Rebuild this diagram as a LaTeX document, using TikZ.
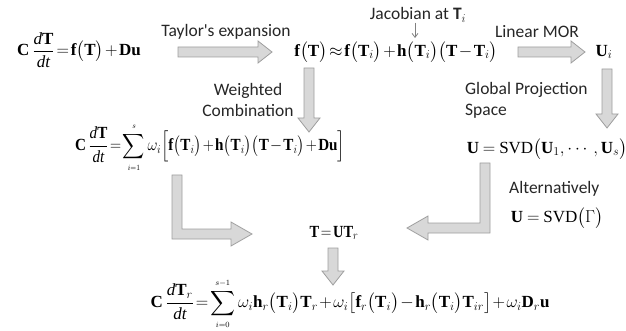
\documentclass[tikz,border=0pt]{standalone}
\usepackage{amsmath}
\usepackage{graphicx}
\usepackage{fontspec}
\setmainfont{Liberation Serif}
\newfontfamily\labfont{Carlito}
\usetikzlibrary{arrows.meta,calc}
\definecolor{arrfill}{RGB}{216,216,216}
\definecolor{arrline}{RGB}{158,158,158}
\thickmuskip=2mu\relax
\medmuskip=1.5mu\relax
\newcommand{\bv}[1]{\textbf{#1}}
\newcommand{\dd}{\textit{d}}
\newcommand{\wsum}[2]{\displaystyle\sum\limits_{\scriptscriptstyle #1}^{\scriptscriptstyle #2}}
% block arrow to the right / down between two named points
\newcommand{\blkR}[2]{\draw[blkarr] ($(#1)+(0,-5)$) -- ($(#2)+(-14,-5)$) -- ($(#2)+(-14,-11)$) -- (#2)
  -- ($(#2)+(-14,11)$) -- ($(#2)+(-14,5)$) -- ($(#1)+(0,5)$) -- cycle;}
\newcommand{\blkD}[2]{\draw[blkarr] ($(#1)+(-5,0)$) -- ($(#2)+(-5,-14)$) -- ($(#2)+(-11,-14)$) -- (#2)
  -- ($(#2)+(11,-14)$) -- ($(#2)+(5,-14)$) -- ($(#1)+(5,0)$) -- cycle;}
\tikzset{
  eqn/.style={inner sep=0pt, font=\fontsize{17}{20}\selectfont},
  lbl/.style={inner sep=0pt, font=\labfont\fontsize{17.5}{21}\selectfont, text=black!85},
  blkarr/.style={draw=arrline, fill=arrfill, line width=0.8pt, line join=miter},
  thinarr/.style={-{Straight Barb[length=4pt,width=6pt]}, gray, line width=0.8pt},
}

\begin{document}
\begin{tikzpicture}[x=1pt,y=-1pt]
  \useasboundingbox (0,0) rectangle (626,331);
  % equations
  \node[eqn] (ode) at (79,50) {$\bv{C}\,\dfrac{\dd\bv{T}}{\dd\textit{t}}=\bv{f}\bigl(\bv{T}\bigr)+\bv{Du}$};
  \node[eqn] (taylor) at (396,52) {$\bv{f}\bigl(\bv{T}\bigr)\approx\bv{f}\bigl(\bv{T}_{i}\bigr)+\bv{h}\bigl(\bv{T}_{i}\bigr)\bigl(\bv{T}-\bv{T}_{i}\bigr)$};
  \node[eqn] (ui) at (604,52) {$\bv{U}_{i}$};
  \node[eqn] (wsum) at (210,148) {\scalebox{0.89}[1]{$\bv{C}\,\dfrac{\dd\bv{T}}{\dd\textit{t}}=\wsum{i=1}{s}\omega_{i}\Bigl[\bv{f}\bigl(\bv{T}_{i}\bigr)+\bv{h}\bigl(\bv{T}_{i}\bigr)\bigl(\bv{T}-\bv{T}_{i}\bigr)+\bv{Du}\Bigr]$}};
  \node[eqn] (svd) at (547,149) {$\bv{U}\;=\;\text{SVD}\bigl(\bv{U}_{1},\cdots,\bv{U}_{s}\bigr)$};
  \node[eqn] (svdg) at (557,218) {$\bv{U}\;=\;\text{SVD}\bigl(\Gamma\bigr)$};
  \node[eqn] (proj) at (334,233) {\scalebox{0.85}[1]{$\bv{T}=\bv{U}\bv{T}_{r}$}};
  \node[eqn] (rom) at (350,304) {$\bv{C}\,\dfrac{\dd\bv{T}_{r}}{\dd\textit{t}}=\wsum{i=0}{s-1}\omega_{i}\bv{h}_{r}\bigl(\bv{T}_{i}\bigr)\bv{T}_{r}+\omega_{i}\bigl[\bv{f}_{r}\bigl(\bv{T}_{i}\bigr)-\bv{h}_{r}\bigl(\bv{T}_{i}\bigr)\bv{T}_{ir}\bigr]+\omega_{i}\bv{D}_{r}\bv{u}$};
  % labels
  \node[lbl] (lt) at (226,32) {Taylor's expansion};
  \node[lbl] (jac) at (418,15) {Jacobian at $\bv{T}_{i}$};
  \node[lbl] (lm) at (537,32) {Linear MOR};
  \node[lbl, align=center] (wc) at (248,100) {Weighted\\Combination};
  \node[lbl, align=left, anchor=west] (gp) at (465,100) {Global Projection\\Space};
  \node[lbl, anchor=west] (alt) at (509,189) {Alternatively};
  % arrows
  \draw[thinarr] (jac.south -| 415,0) -- (415,38);
  \coordinate (a1s) at (178,52); \coordinate (a1e) at (272,52);
  \coordinate (a2s) at (518,52); \coordinate (a2e) at (585,52);
  \coordinate (a3s) at (309,68); \coordinate (a3e) at (309,132);
  \coordinate (a4s) at (607,69); \coordinate (a4e) at (607,128);
  \coordinate (a5s) at (333,248); \coordinate (a5e) at (333,285);
  \blkR{a1s}{a1e}
  \blkR{a2s}{a2e}
  \blkD{a3s}{a3e}
  \blkD{a4s}{a4e}
  \blkD{a5s}{a5e}
  % bent arrows into T = U T_r
  \draw[blkarr] (172,175) -- (182,175) -- (182,229) -- (231,229) -- (231,222) -- (252,234)
    -- (231,246) -- (231,239) -- (172,239) -- cycle;
  \draw[blkarr] (490,163) -- (480,163) -- (480,223) -- (428,223) -- (428,216) -- (407,228)
    -- (428,240) -- (428,233) -- (490,233) -- cycle;
\end{tikzpicture}
\end{document}
